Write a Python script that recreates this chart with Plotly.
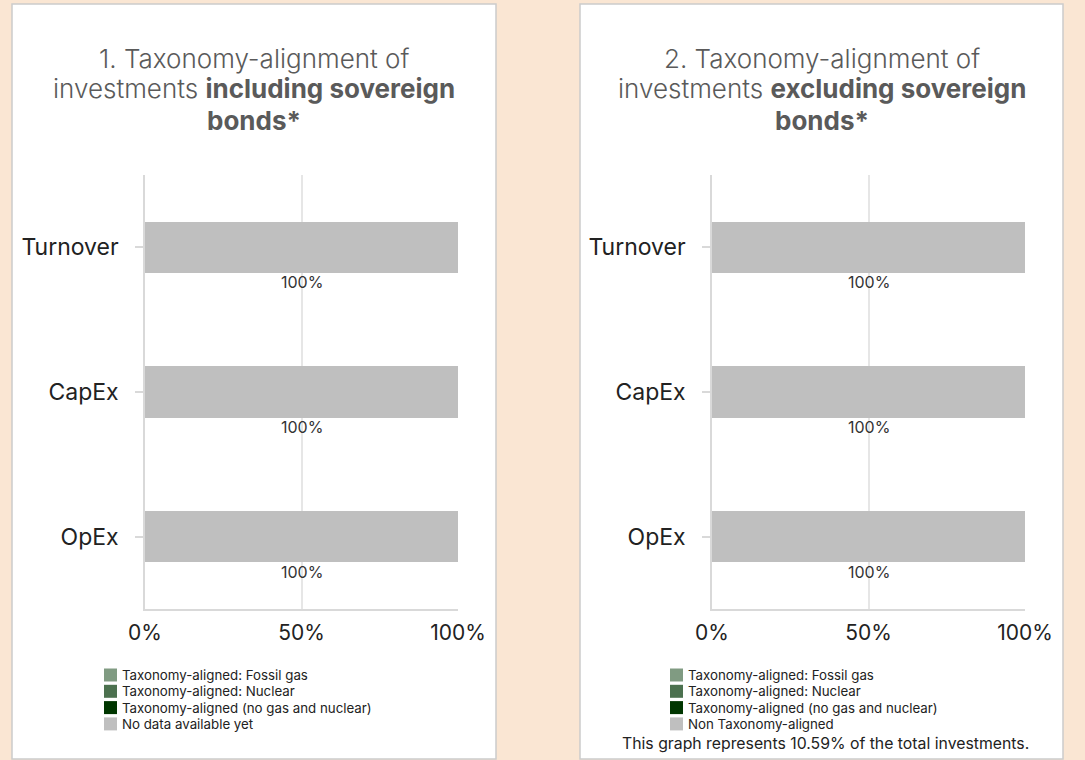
import plotly.graph_objects as go

# data
categories = ["Turnover", "CapEx", "OpEx"]
ticks_pct = [0, 50, 100]

incl_fossil_gas = [0, 0, 0]
incl_nuclear = [0, 0, 0]
incl_aligned = [0, 0, 0]
incl_no_data = [100, 100, 100]

excl_fossil_gas = [0, 0, 0]
excl_nuclear = [0, 0, 0]
excl_aligned = [0, 0, 0]
excl_non_aligned = [100, 100, 100]

names_incl = ["Taxonomy-aligned: Fossil gas", "Taxonomy-aligned: Nuclear",
              "Taxonomy-aligned (no gas and nuclear)", "No data available yet"]
names_excl = ["Taxonomy-aligned: Fossil gas", "Taxonomy-aligned: Nuclear",
              "Taxonomy-aligned (no gas and nuclear)", "Non Taxonomy-aligned"]
colors = ["#809b82", "#4c714f", "#003600", "#bfbfbf"]

title_lines_1 = ["1. Taxonomy-alignment of", "investments <b>including sovereign</b>", "<b>bonds*</b>"]
title_lines_2 = ["2. Taxonomy-alignment of", "investments <b>excluding sovereign</b>", "<b>bonds*</b>"]
footnote = "This graph represents 10.59% of the total investments."

FONT = "Inter, Roboto, sans-serif"
W, H = 1085, 760


def px_x(v):
    return v / W


def px_y(v):
    return 1 - v / H


fig = go.Figure()

panels = [
    dict(series=[incl_fossil_gas, incl_nuclear, incl_aligned, incl_no_data], names=names_incl,
         xa="x", ya="y", title=title_lines_1, center=254, legend_x=104),
    dict(series=[excl_fossil_gas, excl_nuclear, excl_aligned, excl_non_aligned], names=names_excl,
         xa="x2", ya="y2", title=title_lines_2, center=822, legend_x=670),
]

# white cards behind each chart
for x0, x1 in [(12, 496), (580, 1063)]:
    fig.add_shape(type="rect", xref="paper", yref="paper", layer="below",
                  x0=px_x(x0), x1=px_x(x1), y0=px_y(759), y1=px_y(4),
                  fillcolor="white", line=dict(color="#cccccc", width=1.5))

for p in panels:
    for series, name, col in zip(p["series"], p["names"], colors):
        fig.add_trace(go.Bar(
            y=categories, x=series, orientation="h", name=name,
            marker=dict(color=col, line=dict(width=0)),
            xaxis=p["xa"], yaxis=p["ya"], hoverinfo="skip", showlegend=False,
        ))
    # value labels under the grey bar
    rest = p["series"][-1]
    for cat, v in zip(categories, rest):
        fig.add_annotation(
            x=v / 2, y=cat, xref=p["xa"], yref=p["ya"], text=f"{v:.0f}%",
            showarrow=False, yshift=-35,
            font=dict(family=FONT, size=16, color="#333333"),
        )
    # title, one line per annotation for tight line spacing
    for i, line in enumerate(p["title"]):
        fig.add_annotation(x=px_x(p["center"]), y=px_y(58 + 31 * i), xref="paper", yref="paper",
                           text=line, showarrow=False, xanchor="center", yanchor="middle",
                           font=dict(family=FONT, size=26, color="#5a5a5a", weight=300))
    # legend block (swatch + label per series)
    for i, (name, col) in enumerate(zip(p["names"], colors)):
        cy = 675 + 16.3 * i
        fig.add_shape(type="rect", xref="paper", yref="paper",
                      x0=px_x(p["legend_x"]), x1=px_x(p["legend_x"] + 13),
                      y0=px_y(cy + 6.5), y1=px_y(cy - 6.5),
                      fillcolor=col, line=dict(width=0))
        fig.add_annotation(x=px_x(p["legend_x"] + 17), y=px_y(cy), xref="paper", yref="paper",
                           text=name, showarrow=False, xanchor="left", yanchor="middle",
                           borderpad=0,
                           font=dict(family=FONT, size=13.3, color="#222222"))

fig.add_annotation(x=px_x(826), y=px_y(743), xref="paper", yref="paper",
                   text=footnote, showarrow=False, xanchor="center", yanchor="middle",
                   font=dict(family=FONT, size=15.8, color="#222222"))

xaxis_style = dict(
    range=[0, 100], tickvals=ticks_pct, ticktext=[f"{t}%" for t in ticks_pct],
    showgrid=True, gridcolor="#e6e6e6", gridwidth=1.5,
    showline=True, linecolor="#d9d9d9", linewidth=1.5,
    zeroline=False, ticks="", ticklabelstandoff=4,
    tickfont=dict(family=FONT, size=21, color="#222222"),
    fixedrange=True, automargin=False,
)
yaxis_style = dict(
    autorange="reversed", showgrid=False,
    showline=True, linecolor="#d9d9d9", linewidth=1.5,
    ticks="outside", ticklen=8, tickcolor="#d9d9d9", tickwidth=1.5,
    ticklabelstandoff=12,
    tickfont=dict(family=FONT, size=23, color="#222222"),
    fixedrange=True, automargin=False,
)

ydom = [px_y(609), px_y(175)]
fig.update_layout(
    width=W, height=H,
    margin=dict(l=0, r=0, t=0, b=0),
    paper_bgcolor="#fae6d3", plot_bgcolor="white",
    barmode="stack", bargap=0.647,
    font=dict(family=FONT),
    xaxis=dict(domain=[px_x(145), px_x(458)], anchor="y", **xaxis_style),
    yaxis=dict(domain=ydom, anchor="x", **yaxis_style),
    xaxis2=dict(domain=[px_x(712), px_x(1025)], anchor="y2", **xaxis_style),
    yaxis2=dict(domain=ydom, anchor="x2", **yaxis_style),
    showlegend=False,
)

fig.write_html("out.html", config={"displayModeBar": False},
               post_script="document.body.style.margin = '0';")
